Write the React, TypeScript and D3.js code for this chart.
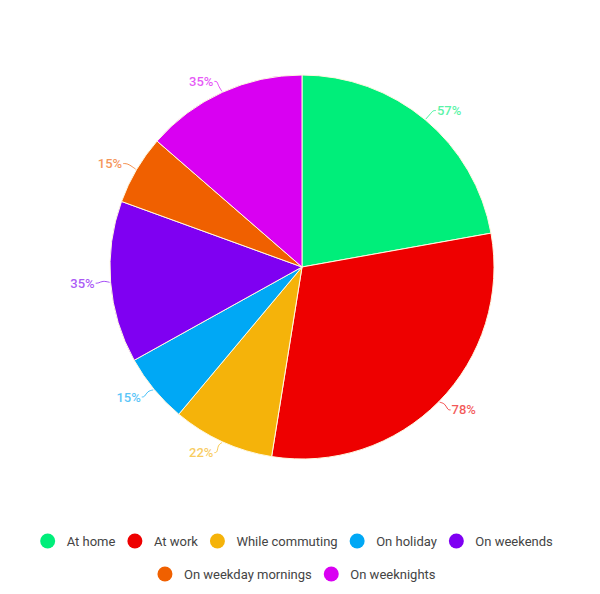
import React, { useEffect, useRef } from "react";
import * as d3 from "d3";

const categories = ["At home", "At work", "While commuting", "On holiday", "On weekends", "On weekday mornings", "On weeknights"];
const values = [57, 78, 22, 15, 35, 15, 35];
const colors = ["#00EE7A", "#EE0000", "#F5B30A", "#00A8F5", "#7F00F2", "#F06000", "#D900F2"];
const legendRows = [[0, 1, 2, 3, 4], [5, 6]];

export default function App() {
  const ref = useRef<SVGSVGElement>(null);
  useEffect(() => {
    const svg = d3.select(ref.current);
    svg.selectAll("*").remove();
    const cx = 302, cy = 267, r = 192;
    const data = categories.map((c, i) => ({ c, v: values[i], col: colors[i] }));
    const pie = d3.pie<any>().value((d) => d.v).sort(null);
    const arcs = pie(data);
    const arc = d3.arc<any>().innerRadius(0).outerRadius(r);
    const g = svg.append("g").attr("transform", `translate(${cx},${cy})`);
    g.selectAll("path.s").data(arcs).enter().append("path")
      .attr("d", arc).attr("fill", (d) => d.data.col)
      .attr("stroke", "#fff8e0").attr("stroke-width", 1);
    arcs.forEach((a) => {
      const m = (a.startAngle + a.endAngle) / 2;
      const sx = Math.sin(m), sy = -Math.cos(m);
      const right = sx >= 0;
      const p1 = [sx * (r + 1), sy * (r + 1)];
      const pm = [sx * (r + 6) + (right ? 1 : -1) * 2, sy * (r + 6) - 2];
      const p2 = [sx * (r + 12), sy * (r + 12)];
      const p3 = [p2[0] + (right ? 3 : -3), p2[1]];
      g.append("path")
        .attr("d", d3.line().curve(d3.curveBasis)([p1 as any, pm as any, p2 as any, p3 as any]))
        .attr("fill", "none").attr("stroke", a.data.col).attr("stroke-width", 1).attr("opacity", 0.7);
      g.append("text")
        .attr("x", p3[0] + (right ? 1 : -1)).attr("y", p3[1])
        .attr("dy", "0.35em")
        .attr("text-anchor", right ? "start" : "end")
        .attr("font-family", "Roboto, sans-serif").attr("font-size", 13).attr("font-weight", 500)
        .attr("fill", a.data.col).attr("opacity", 0.65)
        .text(`${a.data.v}%`);
    });
    const rowY = [541, 574];
    legendRows.forEach((row, ri) => {
      const lg = svg.append("g");
      let x = 0;
      row.forEach((i) => {
        const it = lg.append("g").attr("transform", `translate(${x},0)`);
        it.append("circle").attr("cx", 7.5).attr("cy", 0).attr("r", 7.5).attr("fill", colors[i]);
        const t = it.append("text").attr("x", 26.5).attr("y", 0).attr("dy", "0.35em")
          .attr("font-family", "Roboto, sans-serif").attr("font-size", 13)
          .attr("fill", "#444").text(categories[i]);
        const w = (t.node() as SVGTextElement).getComputedTextLength();
        x += 26.5 + w + 12;
      });
      const total = x - 12;
      lg.attr("transform", `translate(${296.5 - total / 2},${rowY[ri]})`);
    });
  }, []);
  return (
    <svg ref={ref} width={600} height={594} style={{ display: "block", position: "absolute", left: 0, top: 0, background: "#fff" }} />
  );
}
